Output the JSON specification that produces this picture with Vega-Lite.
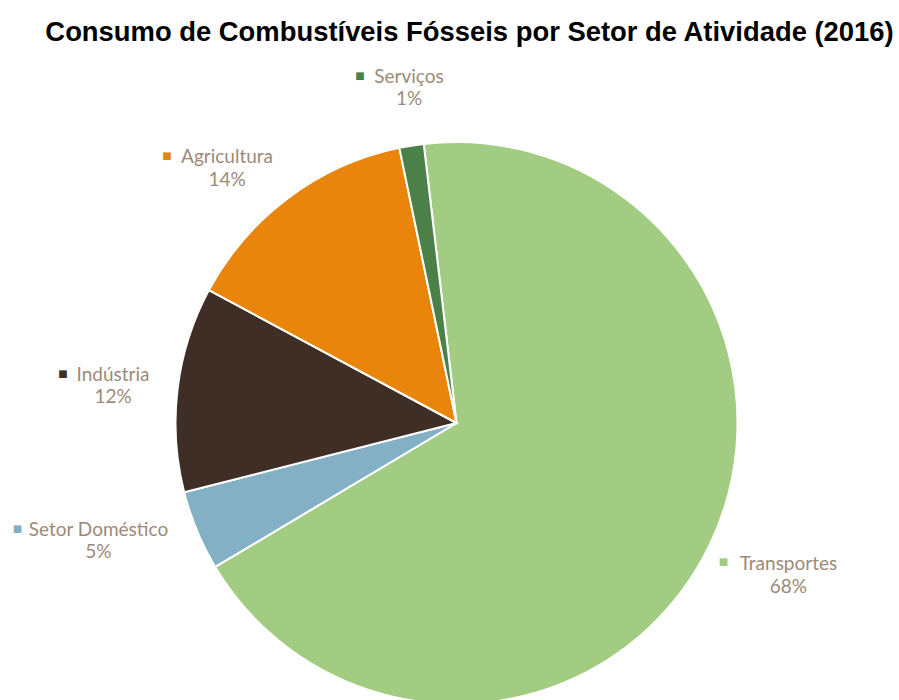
{
  "$schema": "https://vega.github.io/schema/vega-lite/v6.json",
  "width": 881,
  "height": 552,
  "autosize": {"type": "none"},
  "padding": {"left": 16, "top": 147, "right": 2, "bottom": 1},
  "background": "white",
  "title": {
    "text": "Consumo de Combustíveis Fósseis por Setor de Atividade (2016)",
    "font": "Liberation Sans",
    "fontSize": 27.4,
    "fontWeight": "bold",
    "color": "#000000",
    "anchor": "middle",
    "dx": 13,
    "dy": -18
  },
  "data": {
    "values": [
      {"setor": "Transportes", "valor": 0.683, "ordem": 1},
      {"setor": "Setor Doméstico", "valor": 0.046, "ordem": 2},
      {"setor": "Indústria", "valor": 0.118, "ordem": 3},
      {"setor": "Agricultura", "valor": 0.139, "ordem": 4},
      {"setor": "Serviços", "valor": 0.014, "ordem": 5}
    ]
  },
  "encoding": {
    "theta": {"field": "valor", "type": "quantitative", "stack": true, "scale": {"range": [-0.1169, 6.1663]}},
    "order": {"field": "ordem", "type": "quantitative"}
  },
  "layer": [
    {
      "mark": {"type": "arc", "outerRadius": 281, "stroke": "white", "strokeWidth": 2},
      "encoding": {
        "color": {
          "field": "setor",
          "type": "nominal",
          "scale": {
            "domain": ["Transportes", "Setor Doméstico", "Indústria", "Agricultura", "Serviços"],
            "range": ["#A2CC82", "#84B0C5", "#3F2E25", "#E8850A", "#4B8049"]
          },
          "legend": null
        }
      }
    },
    {
      "mark": {
        "type": "text",
        "radius": 340,
        "font": "Lato",
        "fontSize": 19,
        "color": "#9C8A79",
        "align": "center",
        "baseline": "middle",
        "dx": {"expr": "datum.setor==='Serviços'?7:datum.setor==='Agricultura'?-26:datum.setor==='Indústria'?-6:datum.setor==='Setor Doméstico'?-44:27"},
        "dy": {"expr": "datum.setor==='Serviços'?-10:datum.setor==='Agricultura'?6:datum.setor==='Indústria'?-7:datum.setor==='Setor Doméstico'?-23:-9"}
      },
      "encoding": {"text": {"field": "setor", "type": "nominal"}}
    },
    {
      "mark": {
        "type": "text",
        "radius": 340,
        "font": "Lato",
        "fontSize": 19,
        "color": "#9C8A79",
        "align": "center",
        "baseline": "middle",
        "dx": {"expr": "datum.setor==='Serviços'?7:datum.setor==='Agricultura'?-26:datum.setor==='Indústria'?-6:datum.setor==='Setor Doméstico'?-44:27"},
        "dy": {"expr": "datum.setor==='Serviços'?12:datum.setor==='Agricultura'?29:datum.setor==='Indústria'?15:datum.setor==='Setor Doméstico'?-1:14"}
      },
      "encoding": {"text": {"field": "valor", "type": "quantitative", "format": ".0%"}}
    },
    {
      "mark": {
        "type": "text",
        "radius": 340,
        "text": "■",
        "font": "DejaVu Sans",
        "fontSize": 10,
        "align": "center",
        "baseline": "middle",
        "dx": {"expr": "datum.setor==='Serviços'?-42:datum.setor==='Agricultura'?-86:datum.setor==='Indústria'?-56:datum.setor==='Setor Doméstico'?-125:-38"},
        "dy": {"expr": "datum.setor==='Serviços'?-11:datum.setor==='Agricultura'?5:datum.setor==='Indústria'?-8:datum.setor==='Setor Doméstico'?-24:-11"}
      },
      "encoding": {
        "color": {"field": "setor", "type": "nominal", "legend": null}
      }
    }
  ],
  "config": {"view": {"stroke": null}}
}
